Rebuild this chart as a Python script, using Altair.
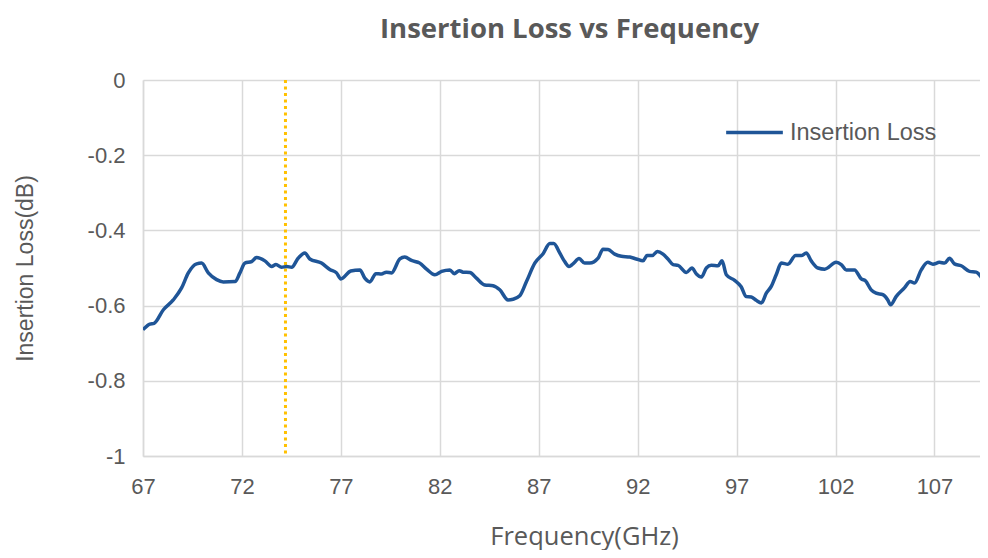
import altair as alt
import pandas as pd

freq = [67.0, 67.35, 67.56, 68.03, 68.53, 68.95, 69.29, 69.71, 69.96, 70.30, 70.72, 71.06,
        71.65, 71.90, 72.15, 72.49, 72.74, 73.16, 73.50, 73.72, 74.00, 74.26, 74.51, 74.84,
        75.18, 75.43, 76.02, 76.44, 76.78, 77.00, 77.50, 77.96, 78.21, 78.46, 78.77, 79.05,
        79.30, 79.56, 79.98, 80.23, 80.57, 80.99, 81.33, 81.75, 82.09, 82.51, 82.73, 82.98,
        83.18, 83.52, 83.85, 84.27, 84.69, 85.03, 85.45, 85.70, 86.04, 86.38, 86.80, 87.22,
        87.56, 87.76, 88.06, 88.31, 88.53, 88.73, 89.04, 89.32, 89.58, 90.00, 90.25, 90.50,
        90.84, 91.18, 91.60, 91.93, 92.27, 92.47, 92.74, 92.99, 93.28, 93.53, 93.79, 94.04,
        94.46, 94.74, 94.97, 95.22, 95.47, 95.72, 96.06, 96.26, 96.48, 96.90, 97.23, 97.48,
        97.74, 97.99, 98.25, 98.50, 98.75, 99.00, 99.26, 99.59, 99.98, 100.27, 100.52, 100.77,
        101.11, 101.45, 102.03, 102.29, 102.54, 102.96, 103.30, 103.51, 103.80, 104.05, 104.39,
        104.64, 104.78, 105.06, 105.48, 105.77, 105.99, 106.33, 106.66, 106.92, 107.25, 107.51,
        107.76, 108.01, 108.35, 108.77, 109.11, 109.44, 109.68]
loss = [-0.664, -0.649, -0.647, -0.611, -0.585, -0.553, -0.513, -0.489, -0.487, -0.513, -0.531, -0.537,
        -0.536, -0.513, -0.487, -0.483, -0.472, -0.481, -0.496, -0.491, -0.498, -0.496, -0.498, -0.474,
        -0.460, -0.476, -0.487, -0.504, -0.513, -0.529, -0.508, -0.505, -0.527, -0.537, -0.515, -0.516,
        -0.511, -0.513, -0.476, -0.471, -0.480, -0.487, -0.503, -0.518, -0.509, -0.505, -0.515, -0.507,
        -0.511, -0.512, -0.527, -0.545, -0.547, -0.558, -0.585, -0.583, -0.574, -0.536, -0.487, -0.462,
        -0.435, -0.435, -0.460, -0.483, -0.496, -0.489, -0.475, -0.487, -0.487, -0.474, -0.450, -0.451,
        -0.463, -0.469, -0.471, -0.476, -0.481, -0.467, -0.467, -0.456, -0.463, -0.476, -0.491, -0.493,
        -0.512, -0.500, -0.516, -0.524, -0.500, -0.493, -0.494, -0.481, -0.518, -0.533, -0.550, -0.576,
        -0.577, -0.586, -0.593, -0.567, -0.549, -0.518, -0.487, -0.490, -0.467, -0.467, -0.460, -0.481,
        -0.500, -0.503, -0.485, -0.491, -0.505, -0.505, -0.529, -0.534, -0.558, -0.567, -0.571,
        -0.585, -0.598, -0.576, -0.553, -0.536, -0.540, -0.505, -0.485, -0.490, -0.485, -0.487,
        -0.474, -0.489, -0.494, -0.509, -0.511, -0.529, -0.540]

series_name = "Insertion Loss"
marker_freq = [74.2]
x_ticks = [67, 72, 77, 82, 87, 92, 97, 102, 107]
y_ticks = [0, -0.2, -0.4, -0.6, -0.8, -1]

df = pd.DataFrame({"freq": freq, "loss": loss, "series": series_name})
marker_df = pd.DataFrame({"freq": marker_freq})

GRAY_TEXT = "#595959"
GRID = "#d9d9d9"

x_scale = alt.Scale(domain=[67, 109.3], nice=False, zero=False)
y_scale = alt.Scale(domain=[-1, 0], nice=False, zero=False)

line = alt.Chart(df).mark_line(strokeWidth=3.5, interpolate="monotone", clip=True).encode(
    x=alt.X("freq:Q", scale=x_scale,
            axis=alt.Axis(values=x_ticks, title="Frequency(GHz)", titleFont="Open Sans",
                          titleFontSize=25.5, titleFontWeight="normal", titleColor=GRAY_TEXT,
                          titleX=441, titleY=88, titleBaseline="alphabetic",
                          labelPadding=20, labelFlush=False)),
    y=alt.Y("loss:Q", scale=y_scale,
            axis=alt.Axis(values=y_ticks, title="Insertion Loss(dB)", titleFont="Liberation Sans",
                          titleFontSize=23, titleFontWeight="normal", titleColor=GRAY_TEXT,
                          titleX=-111, titleY=188, titleAngle=270, titleBaseline="alphabetic",
                          titleAlign="center", labelPadding=18, labelFlush=False,
                          labelExpr="'' + datum.value")),
    color=alt.Color("series:N", scale=alt.Scale(range=["#1f5597"]),
                    legend=alt.Legend(title=None, orient="none", legendX=581, legendY=22,
                                      symbolType="stroke", symbolStrokeWidth=3.5,
                                      symbolSize=3215, labelFont="Liberation Sans",
                                      labelFontSize=23.5, labelColor=GRAY_TEXT, labelOffset=5,
                                      padding=0)),
)

marker = alt.Chart(marker_df).mark_rule(color="#ffc000", strokeWidth=3, strokeDash=[3, 3.5]).encode(
    x=alt.X("freq:Q", scale=x_scale)
)

chart = alt.layer(marker, line).properties(
    width=837,
    height=376,
    background="white",
    autosize=alt.AutoSizeParams(type="none"),
    padding={"left": 135, "top": 72, "right": 0, "bottom": 94},
    title=alt.TitleParams("Insertion Loss vs Frequency", font="Open Sans", fontSize=27.5,
                          fontWeight="bold", color=GRAY_TEXT, anchor="middle", dx=8,
                          offset=4, baseline="alphabetic"),
).configure_view(stroke=None).configure_axis(
    domainColor=GRID, domainWidth=1.5, gridColor=GRID, gridWidth=1.5, ticks=False,
    labelFont="Liberation Sans", labelFontSize=22, labelColor=GRAY_TEXT
)

chart.save("out.html", embed_options={"renderer": "svg", "actions": False})
